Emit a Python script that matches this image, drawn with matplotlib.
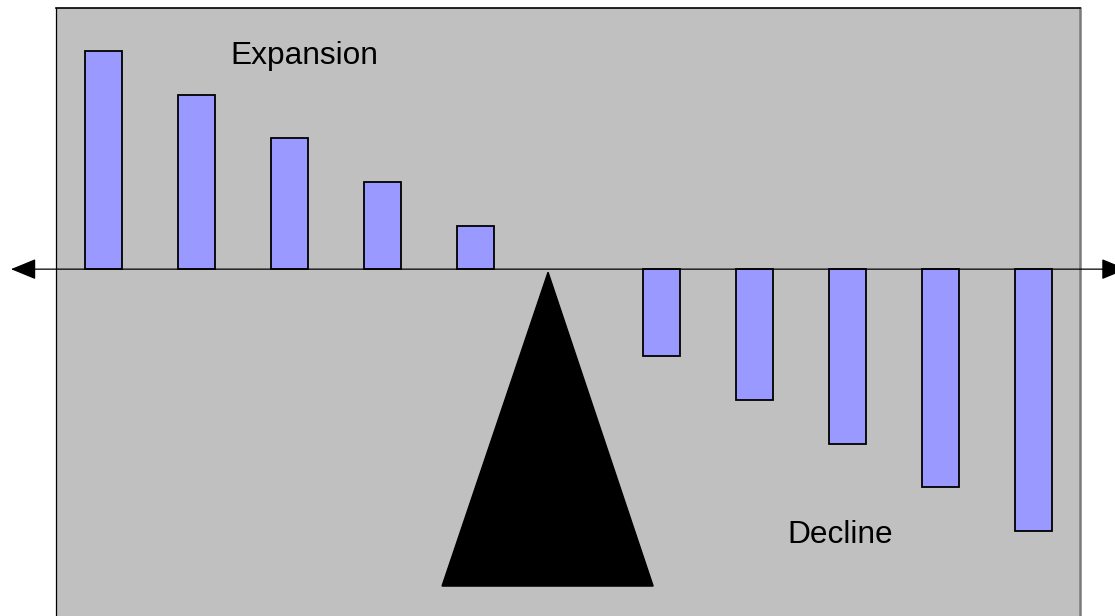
import numpy as np
import matplotlib
matplotlib.use("Agg")
import matplotlib.pyplot as plt

# bar slots along the seesaw (slot 6 is left free for the fulcrum)
positions = [1, 2, 3, 4, 5, 7, 8, 9, 10, 11]
values = [5, 4, 3, 2, 1, -2, -3, -4, -5, -6]

# fulcrum triangle (apex, base left, base right)
fulcrum_x = [5.78, 4.64, 6.91]
fulcrum_y = [-0.07, -7.27, -7.27]

labels = ["Expansion", "Decline"]
label_x = [2.36, 8.35]
label_y = [4.70, -6.28]

fig = plt.figure(figsize=(11.15, 6.16), dpi=100)
# panel runs a little past the bottom edge of the figure
ax = fig.add_axes([56 / 1115, -10.6 / 616, 1024 / 1115, 619 / 616])
ax.set_facecolor("#C0C0C0")
ax.set_xlim(0.489, 11.5)
ax.set_ylim(-8.2, 6)

ax.bar(positions, values, width=0.4, color="#9999FF", edgecolor="black",
       linewidth=1.3, zorder=3)

ax.fill(fulcrum_x, fulcrum_y, color="black", zorder=2)

# double-headed beam through zero, running past the panel edges
ax.annotate("", xy=(12.0, 0), xytext=(0.005, 0),
            arrowprops=dict(arrowstyle="<|-|>,head_length=1.58,head_width=0.65",
                            mutation_scale=10, color="black", lw=0.9,
                            shrinkA=0, shrinkB=0),
            annotation_clip=False, zorder=4)

for txt, x, y in zip(labels, label_x, label_y):
    ax.text(x, y, txt, fontsize=22.8, family="Liberation Sans",
            ha="left", va="baseline", zorder=5)

ax.set_xticks([])
ax.set_yticks([])
ax.spines["top"].set_linewidth(1.2)
ax.spines["left"].set_linewidth(0.9)
ax.spines["right"].set_color("#7a7a7a")
ax.spines["right"].set_linewidth(1.8)
ax.spines["bottom"].set_visible(False)

fig.savefig("out.png", dpi=100)
